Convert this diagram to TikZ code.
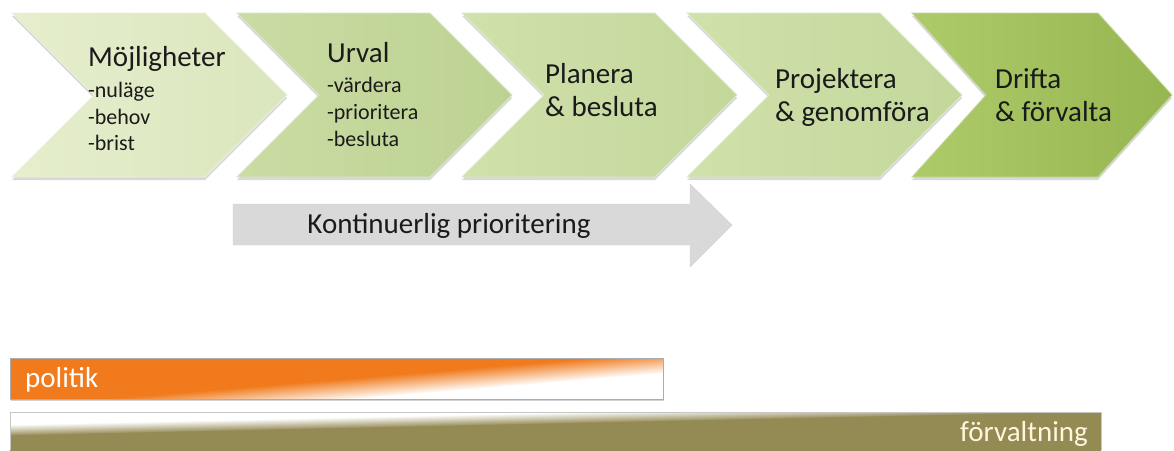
\documentclass[tikz,border=0pt]{standalone}
\usepackage{fontspec}
\setmainfont{Carlito}
\usetikzlibrary{shadows}

\definecolor{mojgreen}{HTML}{E6EECD}
\definecolor{mojgreenb}{HTML}{DAE6BD}
\definecolor{urvgreen}{HTML}{CADCA4}
\definecolor{urvgreenb}{HTML}{BCD292}
\definecolor{plagreen}{HTML}{D0E1AB}
\definecolor{plagreenb}{HTML}{C3D79B}
\definecolor{drigreen}{HTML}{AECB6A}
\definecolor{drigreenb}{HTML}{96B650}
\definecolor{arrowgray}{HTML}{D9D9D9}
\definecolor{polorange}{HTML}{F07A1C}
\definecolor{forolive}{HTML}{948A54}
\definecolor{forcream}{HTML}{FFF6DE}
\definecolor{textdark}{HTML}{1A1A1A}

% x, top length, depth, left colour, right colour
\newcommand{\chevron}[5]{%
\shade [left color=#4, right color=#5, draw=white!45!#5, line width=0.8pt,
  drop shadow={opacity=0.3, shadow xshift=0pt, shadow yshift=-3pt}]
  (#1,13) -- ++(#2,0) -- ++(#3,82) -- ++(-#3,82) -- ++(-#2,0) -- ++(#3,-82) -- cycle;}

\begin{document}
\begin{tikzpicture}[x=1pt, y=-1pt]
\tikzstyle{every node}+=[inner sep=0pt, text=textdark]
\tikzstyle{head}=[anchor=base west, font=\fontsize{29}{34}\selectfont]
\tikzstyle{sub}=[anchor=base west, font=\fontsize{22}{26}\selectfont]
\tikzstyle{bartext}=[font=\fontsize{29}{34}\selectfont]
\useasboundingbox [fill=white] (0,0) rectangle (1174,450);

\chevron{12}{193}{82}{mojgreen}{mojgreenb}
\chevron{237}{193}{82}{urvgreen}{urvgreenb}
\chevron{462}{193}{82}{plagreen}{plagreenb}
\chevron{687}{193}{82}{plagreen}{plagreenb}
\chevron{912}{186}{74}{drigreen}{drigreenb}

\node (moj) at (88,66) [head] {Möjligheter};
\node (mojnu) at (88,97) [sub] {-nuläge};
\node (mojbe) at (88,124) [sub] {-behov};
\node (mojbr) at (88,150) [sub] {-brist};
\node (urv) at (327,62) [head] {Urval};
\node (urvva) at (327,92) [sub] {-värdera};
\node (urvpr) at (327,119) [sub] {-prioritera};
\node (urvbe) at (327,146) [sub] {-besluta};
\node (pla) at (545,83) [head] {Planera};
\node (plabe) at (545,116) [head] {\& besluta};
\node (pro) at (775,88) [head] {Projektera};
\node (proge) at (775,121) [head] {\& genomföra};
\node (dri) at (995,88) [head] {Drifta};
\node (drifo) at (995,121) [head] {\& förvalta};

\draw [fill=arrowgray, draw=gray!35] (233,204) -- (690,204) -- (690,184) -- (732,225) -- (690,267) -- (690,245) -- (233,245) -- cycle;
\node (kont) at (449,226) [font=\fontsize{29}{34}\selectfont] {Kontinuerlig prioritering};

\fill [white, drop shadow={opacity=0.35, shadow xshift=1pt, shadow yshift=-2pt}] (10,358) rectangle (663,399);
\begin{scope}
\clip (10,358) rectangle (663,399);
\begin{scope}[transform canvas={rotate around={4.8:(441,381)}}]
\fill [polorange] (-200,280) rectangle (1300,371);
\shade [top color=polorange, bottom color=white] (-200,370.5) rectangle (1300,392);
\fill [white] (-200,391.5) rectangle (1300,520);
\end{scope}
\end{scope}
\draw [gray!65, line width=1pt] (10,358) rectangle (663,399);
\node (pol) at (25,387) [bartext, anchor=base west, text=white] {politik};

\begin{scope}
\clip (10,412) rectangle (1101,450);
\begin{scope}[transform canvas={rotate around={1.25:(370,422)}}]
\fill [white] (-200,300) rectangle (1300,417);
\shade [top color=white, bottom color=forolive] (-200,416.5) rectangle (1300,428);
\fill [forolive] (-200,427.5) rectangle (1300,520);
\end{scope}
\end{scope}
\draw [gray!45, line width=0.8pt] (10,450) -- (10,412) -- (1101,412) -- (1101,450);
\node (forv) at (1088,441) [bartext, anchor=base east, text=forcream] {förvaltning};
\end{tikzpicture}
\end{document}
